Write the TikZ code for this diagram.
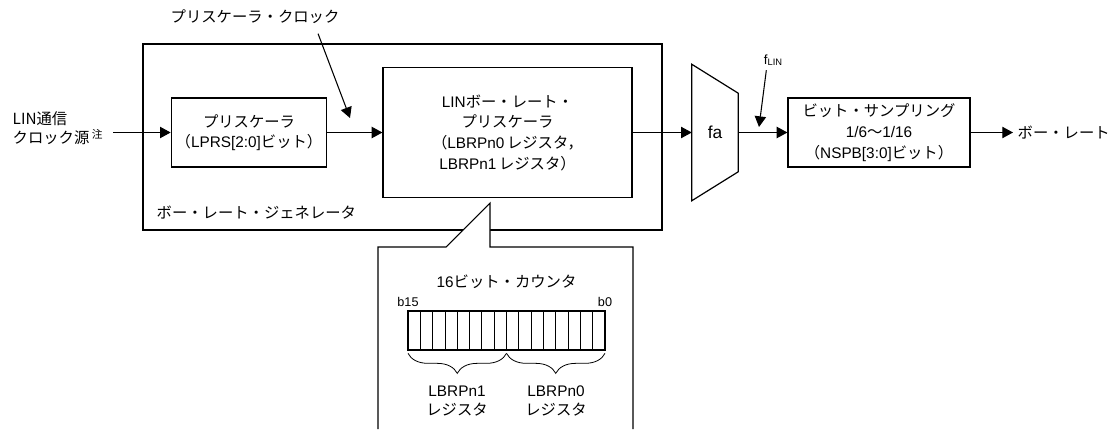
\documentclass[tikz,border=0pt]{standalone}
\usepackage{fontspec}
\setmainfont{Liberation Sans}
\newfontfamily\jp{Noto Sans CJK JP}
\usetikzlibrary{arrows.meta,calc,decorations.pathreplacing}
% kana, kanji and full-width forms switch to the CJK font by themselves
\XeTeXinterchartokenstate=1
\newXeTeXintercharclass\jpcls
\newcount\jpc
\def\jprange#1#2{\jpc=#1\relax\loop\XeTeXcharclass\jpc=\jpcls\relax\ifnum\jpc<#2\relax\advance\jpc by 1\relax\repeat}
\jprange{"3000}{"30FF}\jprange{"4E00}{"9FFF}\jprange{"FF00}{"FFEF}
\XeTeXinterchartoks 0 \jpcls={\jp}
\XeTeXinterchartoks 4095 \jpcls={\jp}
\XeTeXinterchartoks \jpcls 0={\rmfamily}

\begin{document}
\begin{tikzpicture}[x=.75pt,y=-.75pt,font=\fontsize{11.5}{15.5}\selectfont,
box/.style={draw,line width=.9pt,align=center},
arr/.style={line width=.8pt,-{Triangle[length=8pt,width=8.5pt]}},
brc/.style={decorate,decoration={brace,amplitude=15pt}}]
\useasboundingbox(0,0)rectangle(1118,429);
% baud rate generator
\node[draw,line width=1.5pt,minimum width=389.25pt,minimum height=139.5pt](brg)at(402.5,137){};
\node[anchor=west](brgl)at(152,213){ボー・レート・ジェネレータ};
\node[box,minimum width=112.5pt,minimum height=51.75pt,font=\fontsize{11.5}{15}\selectfont](ps)at(249,132.5){プリスケーラ\\（LPRS[2:0]ビット）};
\node[box,minimum width=186.75pt,minimum height=97.5pt](lbr)at(507.5,132.5){LINボー・レート・\\プリスケーラ\\（LBRPn0\,レジスタ，\\LBRPn1\,レジスタ）};
\node[align=left,anchor=west,font=\jp\fontsize{11.5}{14.25}\selectfont](src)at(8,128.5){LIN通信\\クロック源\,\textsuperscript{注}};
\draw[arr]([xshift=4pt]src.east|-ps.west)--(ps.west);\draw[arr](ps.east)--(lbr.west);
\node(pclk)at(255,17){プリスケーラ・クロック};\coordinate(pclkin)at(350,118);
\draw[arr]($(pclk.south east)+(-26,5)$)--(pclkin);
% selector fa
\node[minimum width=34.5pt,minimum height=102pt,inner sep=0,font=\fontsize{13}{15}\selectfont](fa)at(715,132.5){fa};
\draw[line width=.9pt](fa.north west)--($(fa.north east)+(0,29)$)--($(fa.south east)+(0,-29)$)--(fa.south west)--cycle;
\draw[arr](lbr.east)--(fa.west);
\node[box,minimum width=136.5pt,minimum height=51.75pt](smp)at(879,132.5){ビット・サンプリング\\1/6〜1/16\\（NSPB[3:0]ビット）};
\draw[arr](fa.east)--(smp.west);
\node(flin)at(773,60){\fontsize{10}{12}\selectfont f\raisebox{-.2ex}{\fontsize{7}{8}\selectfont LIN}};\coordinate(flinin)at(759,127);
\draw[arr]([xshift=-5pt]flin.south)--(flinin);
\node[anchor=west](out)at(1013,132.5){ボー・レート};\draw[arr](smp.east)--(out.west);
% 16 bit counter callout
\draw[line width=.8pt,fill=white](378,429)--(378,247)--(446,247)--(490,203)--(490,247)--(633,247)--(633,429);
\node(cnt)at(506.5,282){16ビット・カウンタ};
\node[draw,line width=1.5pt,outer sep=0,minimum width=147.75pt,minimum height=29.25pt,inner sep=0](reg)at(506.5,330.5){};
\foreach \i in {1,...,15}\draw[line width=.6pt]($(reg.south west)!\i/16!(reg.south east)$)--($(reg.north west)!\i/16!(reg.north east)$);
\node[font=\fontsize{9.5}{11}\selectfont](b15)at($(reg.north west)+(0,-9)$){b15};
\node[font=\fontsize{9.5}{11}\selectfont](b0)at($(reg.north east)+(0,-9)$){b0};
\draw[brc,line width=.6pt]([yshift=-2.5pt]reg.south)--([yshift=-2.5pt]reg.south west);
\draw[brc,line width=.6pt]([yshift=-2.5pt]reg.south east)--([yshift=-2.5pt]reg.south);
\node[align=center,font=\fontsize{11.5}{14}\selectfont](r1)at(457,401){LBRPn1\\レジスタ};
\node[align=center,font=\fontsize{11.5}{14}\selectfont](r0)at(556,401){LBRPn0\\レジスタ};
\end{tikzpicture}
\end{document}
